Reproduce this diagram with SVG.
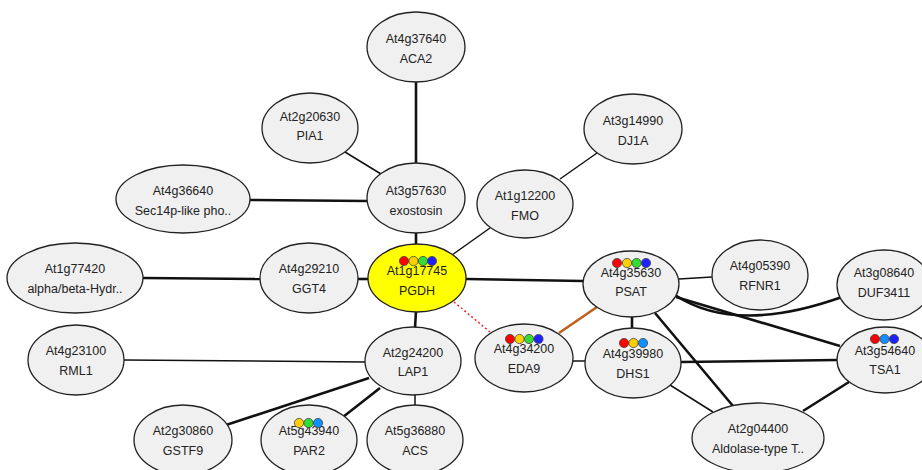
<svg xmlns="http://www.w3.org/2000/svg" width="922" height="470" viewBox="0 0 922 470">
<defs>
<style>
.n ellipse{fill:#f0f0f0;stroke:#222;stroke-width:1.3}
.n text{font-family:"Liberation Sans",Arial,sans-serif;font-size:12.5px;fill:#222;text-anchor:middle}
.e line,.e path{stroke:#111;fill:none}
.tk{stroke-width:2.6}
.tn{stroke-width:1.5}
.d{stroke:#444;stroke-width:0.8}
.r{fill:#ff0000}.y{fill:#ffd000}.g{fill:#30dd30}.b{fill:#2020ff}.lb{fill:#1090ff}
</style>
</defs>
<rect width="922" height="470" fill="#ffffff"/>
<g id="edges" class="e">
<line class="tk" x1="416" y1="82" x2="416" y2="164"/>
<line class="tn" x1="345" y1="152" x2="381" y2="174"/>
<line class="tk" x1="250" y1="200" x2="367" y2="201"/>
<line class="tk" x1="416" y1="232" x2="416" y2="245"/>
<line class="tn" x1="490" y1="228" x2="452" y2="255"/>
<line class="tn" x1="597" y1="153" x2="560" y2="179"/>
<line class="tk" x1="143" y1="278" x2="260" y2="279"/>
<line class="tk" x1="358" y1="279" x2="369" y2="279"/>
<line class="tk" x1="466" y1="279" x2="583" y2="281"/>
<line class="tk" x1="416" y1="311" x2="415" y2="328"/>
<line x1="454" y1="302" x2="490" y2="332" style="stroke:#ff2020;stroke-width:1.5;stroke-dasharray:2,2.5"/>
<line x1="597" y1="307" x2="559" y2="333" style="stroke:#c0601a;stroke-width:2.6"/>
<line class="tn" x1="679" y1="279" x2="712" y2="277"/>
<path class="tk" d="M675,295 Q735,335 842,297"/>
<line class="tk" x1="676" y1="297" x2="840" y2="346"/>
<line class="tk" x1="632" y1="316" x2="632" y2="329"/>
<line class="tk" x1="655" y1="313" x2="733" y2="406"/>
<line class="tk" x1="681" y1="362" x2="837" y2="360"/>
<line class="tn" x1="572" y1="361" x2="586" y2="361"/>
<line class="tn" x1="670" y1="385" x2="713" y2="412"/>
<line class="tk" x1="803" y1="411" x2="849" y2="382"/>
<line class="tn" x1="124" y1="360" x2="366" y2="362"/>
<line class="tk" x1="369" y1="378" x2="226" y2="425"/>
<line class="tk" x1="380" y1="388" x2="343" y2="417"/>
<line class="tn" x1="415" y1="394" x2="415" y2="406"/>
</g>
<g id="ACA2" class="n"><ellipse cx="416" cy="47" rx="49" ry="35"/><text x="416" y="42.5">At4g37640</text><text x="416" y="62.5">ACA2</text></g>
<g id="PIA1" class="n"><ellipse cx="310" cy="128" rx="48" ry="35"/><text x="310" y="121">At2g20630</text><text x="310" y="140">PIA1</text></g>
<g id="Sec14p" class="n"><ellipse cx="183" cy="199" rx="67" ry="34"/><text x="183" y="194.5">At4g36640</text><text x="183" y="214.5">Sec14p-like pho..</text></g>
<g id="exostosin" class="n"><ellipse cx="416" cy="198" rx="49" ry="35"/><text x="416" y="194.5">At3g57630</text><text x="416" y="214.5">exostosin</text></g>
<g id="FMO" class="n"><ellipse cx="525" cy="204" rx="48" ry="34"/><text x="525" y="199.5">At1g12200</text><text x="525" y="219.5">FMO</text></g>
<g id="DJ1A" class="n"><ellipse cx="633" cy="129" rx="49" ry="35"/><text x="633" y="124.5">At3g14990</text><text x="633" y="144.5">DJ1A</text></g>
<g id="alphabeta" class="n"><ellipse cx="75" cy="278" rx="68" ry="35"/><text x="75" y="273">At1g77420</text><text x="75" y="293">alpha/beta-Hydr..</text></g>
<g id="GGT4" class="n"><ellipse cx="309" cy="278" rx="49" ry="35"/><text x="309" y="273">At4g29210</text><text x="309" y="293">GGT4</text></g>
<g id="PGDH" class="n"><ellipse cx="417" cy="278" rx="49" ry="34" style="fill:#ffff00"/><text x="417" y="274.5">At1g17745</text><text x="417" y="294.5">PGDH</text>
<circle class="d r" cx="404" cy="261" r="4.6"/><circle class="d y" cx="413.5" cy="261" r="4.6"/><circle class="d g" cx="423" cy="261" r="4.6"/><circle class="d b" cx="432" cy="261" r="4.6"/></g>
<g id="PSAT" class="n"><ellipse cx="631" cy="284" rx="48" ry="33"/><text x="631" y="276.5">At4g35630</text><text x="631" y="296">PSAT</text>
<circle class="d r" cx="617" cy="263" r="4.6"/><circle class="d y" cx="627" cy="263" r="4.6"/><circle class="d g" cx="636.5" cy="263" r="4.6"/><circle class="d b" cx="646" cy="263" r="4.6"/></g>
<g id="RFNR1" class="n"><ellipse cx="760" cy="275" rx="48" ry="35"/><text x="760" y="269.5">At4g05390</text><text x="760" y="289.5">RFNR1</text></g>
<g id="DUF3411" class="n"><ellipse cx="884" cy="285" rx="47" ry="35"/><text x="884" y="276.5">At3g08640</text><text x="884" y="296.5">DUF3411</text></g>
<g id="RML1" class="n"><ellipse cx="76" cy="360" rx="48" ry="35"/><text x="76" y="354.5">At4g23100</text><text x="76" y="374.5">RML1</text></g>
<g id="LAP1" class="n"><ellipse cx="413" cy="361" rx="48" ry="34"/><text x="413" y="356.5">At2g24200</text><text x="413" y="376">LAP1</text></g>
<g id="EDA9" class="n"><ellipse cx="524" cy="358" rx="49" ry="34"/><text x="524" y="352.5">At4g34200</text><text x="524" y="372.5">EDA9</text>
<circle class="d r" cx="510" cy="339" r="4.6"/><circle class="d y" cx="519.5" cy="339" r="4.6"/><circle class="d g" cx="529" cy="339" r="4.6"/><circle class="d b" cx="538.5" cy="339" r="4.6"/></g>
<g id="DHS1" class="n"><ellipse cx="633" cy="363" rx="48" ry="35"/><text x="633" y="357.5">At4g39980</text><text x="633" y="377.5">DHS1</text>
<circle class="d r" cx="624" cy="343" r="4.6"/><circle class="d y" cx="633.5" cy="343" r="4.6"/><circle class="d lb" cx="643" cy="343" r="4.6"/></g>
<g id="TSA1" class="n"><ellipse cx="885" cy="360" rx="48" ry="33"/><text x="885" y="354.5">At3g54640</text><text x="885" y="374">TSA1</text>
<circle class="d r" cx="875" cy="339" r="4.6"/><circle class="d lb" cx="884.5" cy="339" r="4.6"/><circle class="d b" cx="894" cy="339" r="4.6"/></g>
<g id="GSTF9" class="n"><ellipse cx="183" cy="440" rx="49" ry="35"/><text x="183" y="434.5">At2g30860</text><text x="183" y="454.5">GSTF9</text></g>
<g id="PAR2" class="n"><ellipse cx="309" cy="440" rx="48" ry="35"/><text x="309" y="434.5">At5g43940</text><text x="309" y="454.5">PAR2</text>
<circle class="d y" cx="299" cy="423" r="4.6"/><circle class="d g" cx="308.5" cy="423" r="4.6"/><circle class="d lb" cx="318" cy="423" r="4.6"/></g>
<g id="ACS" class="n"><ellipse cx="415" cy="440" rx="48" ry="35"/><text x="415" y="434.5">At5g36880</text><text x="415" y="454.5">ACS</text></g>
<g id="Aldolase" class="n"><ellipse cx="758" cy="438" rx="66" ry="35"/><text x="758" y="432.5">At2g04400</text><text x="758" y="452.5">Aldolase-type T..</text></g>
</svg>
